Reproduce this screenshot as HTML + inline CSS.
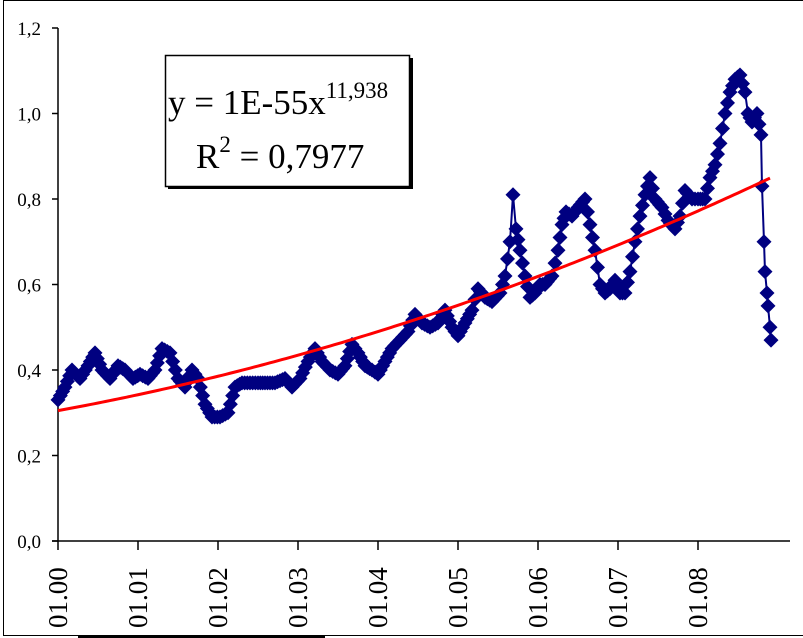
<!DOCTYPE html>
<html><head><style>
body{margin:0;background:#fff;width:803px;height:638px;overflow:hidden}
svg{display:block;font-family:"Liberation Serif",serif}
</style></head><body>
<svg id="s" width="803" height="638" xmlns="http://www.w3.org/2000/svg">
<rect x="3.5" y="0.5" width="820" height="635" fill="none" stroke="#000" stroke-width="1"/>
<line x1="78" y1="636.5" x2="325" y2="636.5" stroke="#000" stroke-width="3"/>
<g id="ax" stroke="#000" stroke-width="1.5"></g>
<g id="lab" fill="#000"></g>
<g id="ser"></g>
<polyline id="tr" fill="none" stroke="#f00" stroke-width="3"/>
<rect x="165.5" y="55.5" width="244" height="131" fill="#fff" stroke="#000" stroke-width="1.5"/>
<rect x="410" y="58" width="3" height="131" fill="#000"/>
<rect x="168" y="186" width="245" height="3" fill="#000"/>
<text x="168" y="114" style="font-size:35px">y = 1E-55x<tspan style="font-size:23px" dy="-16">11,938</tspan></text>
<text x="196" y="168" style="font-size:35px">R<tspan style="font-size:23px" dy="-16">2</tspan><tspan dy="16"> = 0,7977</tspan></text>
</svg>
<script>
var NS="http://www.w3.org/2000/svg";
function el(t,a,p){var e=document.createElementNS(NS,t);for(var k in a)e.setAttribute(k,a[k]);document.getElementById(p).appendChild(e);return e;}
var X0=58,Y0=541,S=427.5;
function Y(v){return Y0-v*S;}
el('line',{x1:58,y1:28,x2:58,y2:541},'ax');
el('line',{x1:52,y1:541,x2:790,y2:541},'ax');
for(var i=0;i<=6;i++){var y=Y(i*0.2);el('line',{x1:52,y1:y,x2:58,y2:y},'ax');
var t=el('text',{x:41,y:y+7,'text-anchor':'end',style:'font-size:19px'},'lab');t.textContent=(i*0.2).toFixed(1).replace('.',',');}
for(var i=0;i<=8;i++){var x=58+i*80;el('line',{x1:x,y1:541,x2:x,y2:550},'ax');
var t=el('text',{x:0,y:0,transform:'translate('+(x+9)+',628) rotate(-90)',style:'font-size:27px'},'lab');t.textContent='01.0'+i;}
var d=[[58,.33],[65,.36],[72,.40],[80,.38],[88,.41],[95,.44],[102,.40],[110,.38],[118,.41],[125,.40],[133,.38],[140,.39],[148,.38],[155,.40],[162,.45],[170,.44],[178,.38],[185,.36],[192,.40],[198,.38],[205,.32],[212,.29],[220,.29],[228,.30],[235,.36],[242,.37],[250,.37],[258,.37],[265,.37],[275,.37],[285,.38],[292,.36],[300,.38],[308,.42],[315,.45],[322,.42],[330,.40],[338,.39],[345,.41],[352,.46],[358,.44],[365,.41],[372,.40],[378,.39],[385,.42],[392,.45],[400,.47],[408,.49],[415,.53],[422,.51],[430,.50],[438,.51],[445,.54],[452,.50],[458,.48],[465,.51],[472,.54],[478,.59],[485,.57],[492,.56],[500,.58],[505,.62],[510,.70],[513,.81],[516,.73],[520,.68],[525,.62],[530,.57],[535,.58],[540,.60],[545,.60],[552,.62],[558,.68],[562,.74],[566,.77],[572,.76],[578,.78],[585,.80],[590,.74],[595,.68],[600,.60],[605,.58],[610,.59],[615,.61],[620,.58],[625,.58],[630,.63],[635,.70],[640,.76],[645,.81],[650,.85],[655,.80],[662,.78],[668,.75],[675,.73],[680,.76],[685,.82],[692,.80],[698,.80],[705,.80],[710,.85],[715,.88],[720,.93],[725,1.00],[730,1.05],[735,1.08],[740,1.09],[745,1.05],[748,1.00],[752,.98],[757,1.00],[761,.95]];
var pts=[];
for(var i=0;i<d.length-1;i++){var a=d[i],b=d[i+1];var n=Math.max(1,Math.round((b[0]-a[0])/2.5));
for(var j=0;j<n;j++){var f=j/n;pts.push([a[0]+(b[0]-a[0])*f,a[1]+(b[1]-a[1])*f]);}}
pts.push([761,.95]);
[[762,.83],[764,.70],[765,.63],[767,.58],[768,.55],[770,.50],[771,.47]].forEach(function(p){pts.push(p);});
var ps=pts.map(function(p){return p[0]+','+Y(p[1]);}).join(' ');
el('polyline',{points:ps,fill:'none',stroke:'#000080','stroke-width':2},'ser');
pts.forEach(function(p){var x=p[0],y=Y(p[1]),r=7.5;
el('polygon',{points:x+','+(y-r)+' '+(x+r)+','+y+' '+x+','+(y+r)+' '+(x-r)+','+y,fill:'#000080'},'ser');});
var tp=[];for(var x=58;x<=771;x+=4){var t=(x-58)/713;tp.push(x+','+Y(0.305+0.304*t+0.241*t*t));}
document.getElementById('tr').setAttribute('points',tp.join(' '));
</script>
</body></html>
